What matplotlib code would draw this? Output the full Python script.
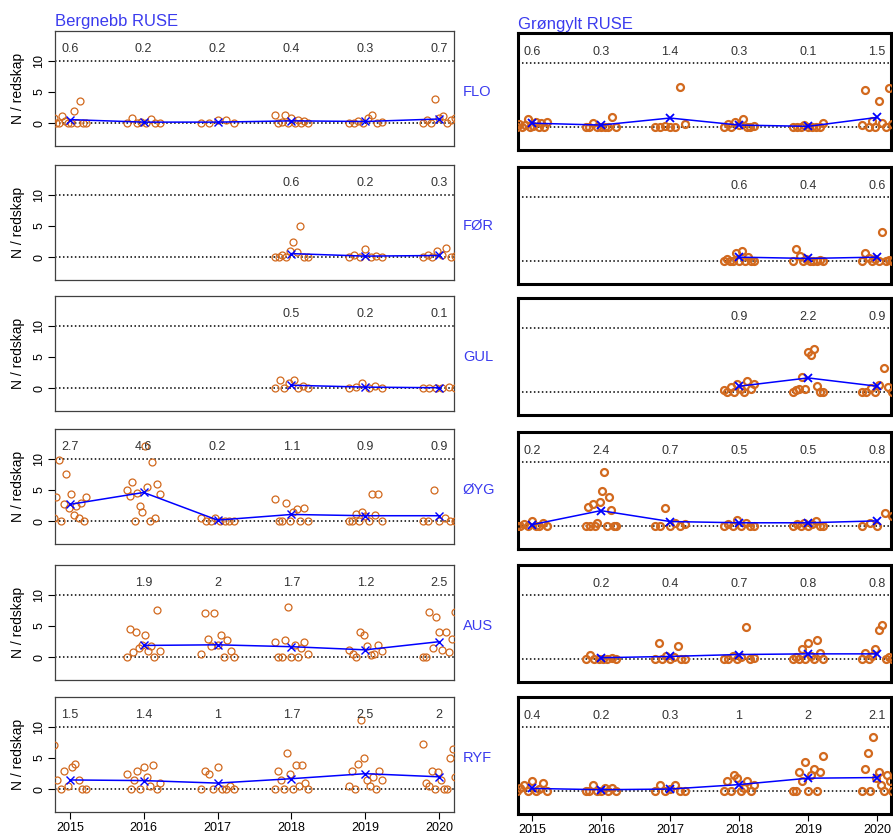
import numpy as np
import matplotlib
matplotlib.use("Agg")
import matplotlib.pyplot as plt
import matplotlib.transforms as mtrans

plt.rcParams['font.family'] = ['Liberation Sans', 'DejaVu Sans']

years = [2015, 2016, 2017, 2018, 2019, 2020]
regions = ["FLO", "FØR", "GUL", "ØYG", "AUS", "RYF"]
titles = ["Bergnebb RUSE", "Grøngylt RUSE"]
ylab = "N / redskap"

# mean per year (label on top of each panel), None = no sampling
berg_means = [
    [0.6, 0.2, 0.2, 0.4, 0.3, 0.7],
    [None, None, None, 0.6, 0.2, 0.3],
    [None, None, None, 0.5, 0.2, 0.1],
    [2.7, 4.6, 0.2, 1.1, 0.9, 0.9],
    [None, 1.9, 2, 1.7, 1.2, 2.5],
    [1.5, 1.4, 1, 1.7, 2.5, 2],
]
gron_means = [
    [0.6, 0.3, 1.4, 0.3, 0.1, 1.5],
    [None, None, None, 0.6, 0.4, 0.6],
    [None, None, None, 0.9, 2.2, 0.9],
    [0.2, 2.4, 0.7, 0.5, 0.5, 0.8],
    [None, 0.2, 0.4, 0.7, 0.8, 0.8],
    [0.4, 0.2, 0.3, 1, 2, 2.1],
]

# single catches per gear, per year (left to right as seen)
berg_flo = [[0.8, 0, 0, 1.2, 0.3, 0, 0, 2.0, 0, 3.5, 0, 0],
            [0, 0.9, 0, 0.2, 0, 0.7, 0, 0],
            [0, 0, 0.5, 0.6, 0],
            [1.3, 0, 0.2, 1.4, 0, 0.9, 0, 0.6, 0, 0.3, 0],
            [0, 0, 0.3, 0, 0.8, 1.3, 0, 0.2],
            [0, 0.5, 0, 3.8, 0.9, 1.2, 0, 0.6, 0.9]]
berg_for = [[], [], [],
            [0, 0, 0.4, 0, 1.0, 2.5, 0.8, 5.0, 0, 0],
            [0, 0.3, 0, 1.4, 0, 0.2, 0],
            [0, 0.4, 0, 1.0, 0.3, 1.5, 0, 0.2]]
berg_gul = [[], [], [],
            [0, 1.3, 0, 0.8, 1.4, 0, 0.3, 0],
            [0, 0.2, 0.8, 0, 0.3, 0],
            [0, 0, 0, 0, 0.2, 0]]
berg_oyg = [[0.5, 3.8, 9.7, 0, 2.8, 7.5, 2.2, 4.3, 1.0, 2.5, 0.5, 3.0, 0, 3.8],
            [5.0, 4.0, 6.3, 0, 4.5, 2.5, 1.5, 12.0, 5.5, 0, 9.5, 0.5, 6.0, 4.3],
            [0.5, 0, 0, 0.6, 0, 0, 0, 0],
            [3.5, 0, 0, 3.0, 0, 1.5, 2.0, 0, 2.2, 0],
            [0, 0, 1.2, 0, 1.5, 0.8, 0, 4.3, 1.0, 4.3, 0],
            [0, 0, 5.0, 0, 0.5, 0, 0]]
berg_aus = [[],
            [0, 4.5, 0.8, 4.0, 1.5, 2.0, 3.5, 1.0, 1.8, 0, 7.5, 1.0],
            [0.5, 7.0, 3.0, 1.8, 7.0, 2.0, 3.5, 0, 2.8, 1.0, 0],
            [2.5, 0, 0, 2.8, 8.0, 0, 2.0, 0, 1.5, 2.5, 0.5],
            [1.2, 0.5, 0, 4.0, 3.5, 1.8, 0.3, 0.5, 2.0, 1.0],
            [0, 0, 7.3, 1.5, 6.5, 4.0, 1.2, 4.0, 0.8, 3.0, 7.3]]
berg_ryf = [[7.0, 1.5, 0, 3.0, 0.5, 3.5, 4.0, 1.5, 0, 0],
            [2.5, 0, 1.5, 3.0, 0, 3.5, 2.0, 0.5, 3.8, 0, 1.0],
            [0, 3.0, 2.5, 0, 3.5, 0, 0, 0.5, 0],
            [0, 3.0, 1.5, 0, 5.8, 2.5, 0, 3.8, 0.5, 3.8, 1.0, 0],
            [0.5, 3.0, 0, 4.0, 11.0, 5.0, 1.5, 0.5, 2.0, 0, 3.0, 1.5],
            [7.3, 1.0, 0.5, 3.0, 0, 2.8, 1.5, 0, 0, 5.0, 6.5, 2.0]]

gron_flo = [[0, 0.5, 0, 0.3, 1.2, 0, 0.2, 0.8, 0, 0.6, 0, 0.8],
            [0, 0, 0.7, 0, 0, 0, 0, 1.5, 0],
            [0, 0, 0.2, 0, 0, 6.2, 0.5],
            [0, 0.5, 0, 0.8, 0.3, 1.2, 0, 0, 0.2],
            [0, 0, 0, 0.3, 0, 0, 0, 0, 0.6],
            [0.3, 5.8, 0, 1.0, 0, 4.0, 0.6, 0, 6.1, 0.5]]
gron_for = [[], [], [],
            [0, 0.3, 0, 0, 1.2, 0, 1.5, 0, 0.6, 0, 0],
            [0, 1.8, 0.8, 0, 0.3, 0, 0, 0, 0.2, 0],
            [0, 1.2, 0.5, 0, 0.3, 0, 4.5, 0, 0.2, 0]]
gron_gul = [[], [], [],
            [0.3, 0, 0.8, 0, 1.3, 0.5, 0, 1.7, 0.5, 1.3],
            [0, 0.3, 0.5, 2.3, 0.5, 6.3, 5.8, 6.8, 1.0, 0, 0],
            [0, 0, 0.6, 0, 1.1, 3.8, 0.8, 0]]
gron_oyg = [[0, 0, 0.3, 0, 0.8, 0, 0, 0.5, 0],
            [0, 3.0, 0, 3.5, 0, 0.5, 3.8, 5.5, 8.5, 0, 4.5, 2.5, 0, 0],
            [0, 0, 2.8, 0, 0.5, 0, 0.3],
            [0, 0.3, 0, 1.0, 0, 0.5, 0, 0],
            [0, 0.3, 0, 0.5, 0, 0.3, 0.8, 0, 0],
            [0, 0.5, 0, 2.0, 1.5]]
gron_aus = [[],
            [0, 0.6, 0, 0, 0, 0, 0.2, 0],
            [0, 2.5, 0, 0.5, 0, 0.3, 2.0, 0, 0],
            [0, 0, 0.5, 0, 0.3, 5.0, 0, 0.2],
            [0, 0.3, 0, 1.5, 0, 2.5, 0.5, 0, 3.0, 1.0, 0],
            [0, 1.0, 0, 0.5, 1.5, 4.5, 5.3, 0, 0.3, 0]]
gron_ryf = [[0, 0.5, 1.0, 0, 1.5, 0, 0.3, 1.2, 0],
            [0, 0, 1.0, 0, 0, 0.5, 0, 0.5, 0],
            [0, 1.0, 0, 0.3, 1.0, 0, 0],
            [0, 1.5, 0, 2.5, 2.0, 0, 0.5, 1.5, 0, 1.0],
            [0, 0, 3.0, 1.5, 4.5, 0, 2.5, 3.5, 0, 3.0, 5.5],
            [0, 3.5, 6.0, 0, 8.5, 2.0, 3.0, 1.0, 0, 2.5, 1.5, 0]]

berg_pts = [berg_flo, berg_for, berg_gul, berg_oyg, berg_aus, berg_ryf]
gron_pts = [gron_flo, gron_for, gron_gul, gron_oyg, gron_aus, gron_ryf]

ORANGE = '#D2691E'
BLUE = '#0000FF'
TXTBLUE = '#3B3BEE'

W, H = 893, 838
fig = plt.figure(figsize=(W / 100, H / 100), dpi=100)

# pixel layout: (x0, x1), row tops, panel height
cols = [
    dict(x=(55, 454), tops=[31, 165, 296, 429, 565, 697], h=115, spine=0.9, scol='#404040', mew=0.9),
    dict(x=(518, 891), tops=[33, 167, 298, 432, 565, 697], h=117, spine=2.2, scol='black', mew=1.6),
]

for c, (cfg, allpts, allmeans) in enumerate(zip(cols, [berg_pts, gron_pts], [berg_means, gron_means])):
    x0, x1 = cfg['x']
    for r in range(6):
        top = cfg['tops'][r]
        h = cfg['h']
        ax = fig.add_axes([x0 / W, 1 - (top + h) / H, (x1 - x0) / W, h / H])
        ax.set_xlim(2014.8, 2020.2)
        ax.set_ylim(-3.6, 14.7)

        ax.axhline(0, color='black', lw=1.1, ls=(0, (1, 1.6)), zorder=1)
        ax.axhline(10, color='black', lw=1.1, ls=(0, (1, 1.6)), zorder=1)

        for yr, vals in zip(years, allpts[r]):
            if not vals:
                continue
            off = np.linspace(-0.22, 0.22, len(vals))
            ax.plot(yr + off, vals, 'o', mfc='none', mec=ORANGE, ms=5, mew=cfg['mew'], zorder=3)

        m = np.array([np.nan if v is None else v for v in allmeans[r]], dtype=float)
        ax.plot(years, m, '-', color=BLUE, lw=1.1, zorder=4)
        ax.plot(years, m, 'x', color=BLUE, ms=6, mew=1.3 if c else 1.0, zorder=5)
        for yr, v in zip(years, allmeans[r]):
            if v is None:
                continue
            ax.text(yr, 11.8, f"{v:g}", ha='center', va='center', fontsize=9, color='#333333')

        for s in ax.spines.values():
            s.set_linewidth(cfg['spine'])
            s.set_color(cfg['scol'])

        if c == 0:
            ax.set_yticks([0, 5, 10])
            ax.set_yticklabels(['0', '5', '10'], rotation=90, va='center')
            ax.tick_params(axis='y', direction='out', length=5, width=0.8, labelsize=9, pad=2)
            fig.text(18 / W, 1 - (top + h / 2) / H, ylab, rotation=90, ha='center', va='center', fontsize=10)
            ax.text(1.022, 0.47, regions[r], transform=ax.transAxes, ha='left', va='center',
                    fontsize=10.5, color=TXTBLUE, clip_on=False)
        else:
            ax.set_yticks([])

        if r == 5:
            ax.set_xticks(years)
            ax.set_xticklabels([str(y) for y in years])
            ax.tick_params(axis='x', direction='out', length=5, width=0.8, labelsize=9, pad=2)
        else:
            ax.set_xticks([])

    fig.text(x0 / W, 1 - (26 if c == 0 else 29) / H, titles[c], ha='left', va='baseline',
             fontsize=12, color=TXTBLUE)

fig.savefig('out.png', dpi=100)
